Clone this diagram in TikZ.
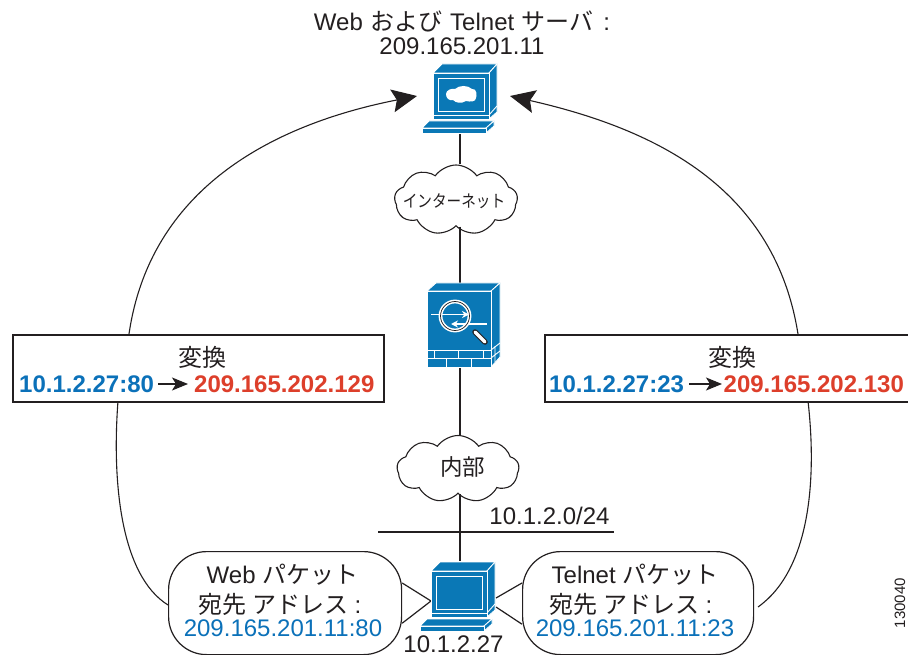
\documentclass[tikz,border=0pt]{standalone}
\usepackage{fontspec}
\setmainfont{Liberation Sans}
\newfontfamily\cjk{Noto Sans CJK JP}
\usetikzlibrary{arrows.meta,shapes.symbols}
\definecolor{ciscoblue}{HTML}{0A78B6}
\definecolor{txtblue}{HTML}{0B71B9}
\definecolor{txtred}{HTML}{DD3F2B}
\definecolor{ink}{HTML}{231F20}
\tikzset{
  x=1pt,y=-1pt,
  conn/.style={draw=ink,line width=1.2pt},
  bigcurve/.style={draw=ink,line width=1.1pt},
  bigtip/.style={-{Stealth[length=25pt,width=23pt,inset=4.5pt]}},
  smalltip/.style={-{Stealth[length=16pt,width=13pt,inset=4pt]}},
  label/.style={inner sep=0pt,text=ink,font=\fontsize{24}{28}\selectfont},
  blab/.style={inner sep=0pt,text=txtblue,font=\fontsize{24}{28}\selectfont},
  natbl/.style={inner sep=0pt,text=txtblue,font=\fontsize{24}{28}\selectfont\bfseries},
  natrd/.style={inner sep=0pt,text=txtred,font=\fontsize{24}{28}\selectfont\bfseries},
  natbox/.style={draw=ink,fill=white,line width=1.5pt,inner sep=0pt,anchor=north west},
  bubble/.style={draw=ink,fill=white,line width=1.2pt,rounded corners=38pt,inner sep=0pt,anchor=north west},
  netcloud/.style={cloud,cloud puffs=9,cloud puff arc=110,draw=ink,fill=white,line width=1.1pt,inner sep=0pt,text=ink,aspect=1.75},
  devicebox/.style={inner sep=0pt,outer sep=0pt,anchor=north west},
  face/.style={fill=ciscoblue,draw=white,line width=0.8pt,line join=round},
  glow/.style={draw=white,line width=0.9pt},
}
\newcommand{\drawcomputer}[2]{%
  \begin{scope}[shift={(#1,#2)}]
    \path[face] (0,0) -- (9,-9) -- (64,-9) -- (56,0) -- cycle;
    \path[face] (56,0) -- (64,-9) -- (64,39) -- (56,46) -- cycle;
    \draw[glow] (56,42) -- (64,33);
    \path[face] (0,0) rectangle (56,46);
    \draw[glow] (0,42) -- (56,42);
    \draw[glow] (5,5) rectangle (51,38);
    \path[face] (-11,55) -- (-4,48) -- (61,48) -- (53,55) -- cycle;
    \path[face] (53,55) -- (61,48) -- (61,53) -- (53,60) -- cycle;
    \path[face] (-11,55) rectangle (53,60);
  \end{scope}}
\begin{document}
\begin{tikzpicture}[x=1pt,y=-1pt]
\useasboundingbox (0,0) rectangle (908,655);
\fill[white] (0,0) rectangle (908,655);

% device footprints, used as connector ends
\node[devicebox,minimum width=76pt,minimum height=70pt] (server) at (422,64) {};
\node[devicebox,minimum width=73pt,minimum height=84pt] (asa) at (427,283) {};
\node[devicebox,minimum width=76pt,minimum height=70pt] (client) at (420,561) {};
\coordinate (spine) at (460,0);
\coordinate (lan1) at (378,532);
\coordinate (lan2) at (614,532);

\node[netcloud,minimum width=123pt,minimum height=70pt] (net) at (456,200) {};
\node[netcloud,minimum width=122pt,minimum height=67pt] (inside) at (458,469) {};

\coordinate (lb1) at (129,334); \coordinate (lb2) at (118,401);
\coordinate (rb1) at (798,334); \coordinate (rb2) at (808,401);
\coordinate (lbub) at (168,605); \coordinate (rbub) at (758,607);
\coordinate (ltip) at (417,96); \coordinate (rtip) at (510,96);

\draw[conn] (spine |- server.south) -- (spine |- net.north);
\draw[conn] (spine |- net.south) -- (spine |- asa.north);
\draw[conn] (spine |- asa.south) -- (spine |- inside.north);
\draw[conn] (spine |- inside.south) -- (spine |- client.north);
\draw[conn] (lan1) -- (lan2);

\draw[bigcurve,bigtip] (lb1) .. controls (150,190) and (270,125) .. (ltip);
\draw[bigcurve] (lb2) .. controls (112,480) and (120,575) .. (lbub);
\draw[bigcurve,bigtip] (rb1) .. controls (775,190) and (660,130) .. (rtip);
\draw[bigcurve] (rb2) .. controls (817,480) and (810,570) .. (rbub);

\node[natbox,minimum width=371pt,minimum height=67pt] (natl) at (12,334) {};
\node[natbox,minimum width=370pt,minimum height=67pt] (natr) at (544,334) {};
\node[label] (ltitle) at (202.5,357) {\cjk 変換};
\node[label] (rtitle) at (732,357) {\cjk 変換};
\node[natbl,anchor=west] (la) at (19,384) {10.1.2.27:80};
\node[natrd,anchor=west] (lb) at (194,384) {209.165.202.129};
\draw[conn,smalltip] (la.east) ++(4,0) -- ([xshift=-6pt]lb.west);
\node[natbl,anchor=west] (ra) at (549,384) {10.1.2.27:23};
\node[natrd,anchor=west] (rb) at (723.5,384) {209.165.202.130};
\draw[conn,smalltip] (ra.east) ++(5,0) -- ([xshift=-1.5pt]rb.west);

\node[bubble,minimum width=233pt,minimum height=103pt] (bl) at (168,551) {};
\node[bubble,minimum width=231pt,minimum height=103pt] (br) at (522,551) {};
\coordinate (cl) at (431,601);
\coordinate (cr1) at (496,598);
\coordinate (cr2) at (496,607);
\draw[conn] ([yshift=-32pt]bl.north east) -- (cl) -- ([yshift=32pt]bl.south east);
\draw[conn] ([yshift=-32pt]br.north west) -- (cr1);
\draw[conn] ([yshift=31pt]br.south west) -- (cr2);
\node[label] (bl1) at (282.5,575) {Web {\cjk パケット}};
\node[label] (bl2) at (280,604) {{\cjk 宛先 アドレス} :};
\node[blab] (bl3) at (283,628) {209.165.201.11:80};
\node[label] (br1) at (635,575) {Telnet {\cjk パケット}};
\node[label] (br2) at (631,604) {{\cjk 宛先 アドレス} :};
\node[blab] (br3) at (635,628) {209.165.201.11:23};

\drawcomputer{433}{73}
\fill[white] (446,94) .. controls (446,90) and (452,88) .. (455,89) .. controls (459,85) and (468,85) .. (472,89) .. controls (477,88) and (477,96) .. (476,98) .. controls (476,102) and (470,102) .. (466,101) .. controls (461,104) and (456,103) .. (453,100) .. controls (449,101) and (446,98) .. (446,94) -- cycle;
\drawcomputer{431}{571}

% security appliance
\path[face] (427,291) -- (436,283) -- (500,283) -- (491,291) -- cycle;
\path[face] (491,291) -- (500,283) -- (500,357) -- (491,367) -- cycle;
\path[face] (427,291) rectangle (491,367);
\draw[glow] (491,350) -- (500,343) (491,358) -- (500,351) (495,346) -- (495,362);
\draw[glow] (427,350) -- (491,350) (427,358) -- (491,358);
\draw[glow] (434,350) -- (434,358) (458,350) -- (458,358) (483,350) -- (483,358);
\draw[glow] (446,358) -- (446,367) (471,358) -- (471,367);
\draw[white,line width=1.5pt,-{Stealth[length=7pt,width=7pt]}] (431,314.5) -- (469,314.5);
\draw[white,line width=1.5pt,-{Stealth[length=7pt,width=7pt]}] (487,324) -- (451,324);
\draw[ink,line width=5.5pt,line cap=round] (475,332) -- (485,342);
\draw[white,line width=3.5pt,line cap=round] (475,332) -- (485,342);
\draw[white,line width=3.8pt] (455,316) circle (14.5);
\draw[ink,line width=0.7pt] (455,316) circle (14.5);

\node[label] (t1) at (462,21) {Web\hspace{1pt} {\cjk および}\hspace{1pt} Telnet\hspace{1pt} {\cjk サーバ}\hspace{3pt} :};
\node[label] (t2) at (462,46) {209.165.201.11};
\node[label,font=\fontsize{17}{20}\selectfont] (t3) at (454,201.5) {\scalebox{0.86}[1]{\cjk インターネット}};
\node[label,font=\fontsize{22.5}{26}\selectfont] (t4) at (462.5,467) {\cjk 内部};
\node[label] (t5) at (549.5,516) {10.1.2.0/24};
\node[label] (t6) at (453.5,644) {10.1.2.27};
\node[inner sep=0pt,text=ink,rotate=90,font=\fontsize{15}{18}\selectfont] (t7) at (900,603) {130040};
\end{tikzpicture}
\end{document}
